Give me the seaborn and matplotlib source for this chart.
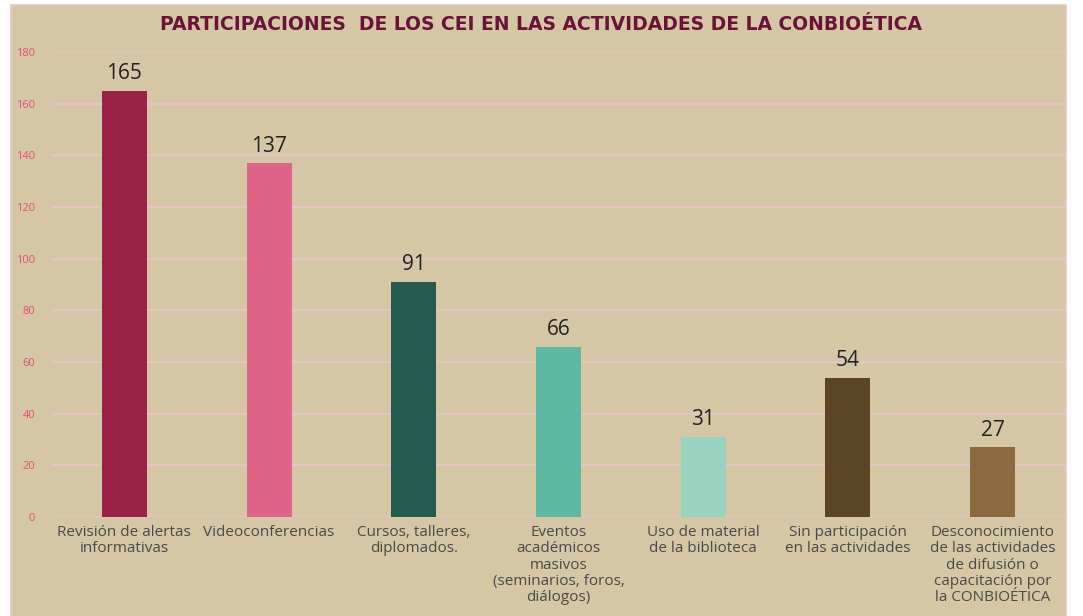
import matplotlib.pyplot as plt
import matplotlib.patches as mpatches
import pandas as pd
import seaborn as sns

categorias = ["Revisión de alertas\ninformativas", "Videoconferencias",
              "Cursos, talleres,\ndiplomados.",
              "Eventos\nacadémicos\nmasivos\n(seminarios, foros,\ndiálogos)",
              "Uso de material\nde la biblioteca",
              "Sin participación\nen las actividades",
              "Desconocimiento\nde las actividades\nde difusión o\ncapacitación por\nla CONBIOÉTICA"]
valores = [165, 137, 91, 66, 31, 54, 27]
colores = ["#9B2247", "#DE6489", "#245B4E", "#5FB8A0", "#99D3BF", "#5C4527", "#8B6A3F"]
yticks = list(range(0, 181, 20))

df = pd.DataFrame({"cat": categorias, "val": valores})

sns.set_style("white")
plt.rcParams["font.family"] = ["Open Sans", "DejaVu Sans"]

fig = plt.figure(figsize=(10.83, 6.16), dpi=100)
fig.patch.set_facecolor("white")
# fondo beige con borde rosa
bg = mpatches.Rectangle((11 / 1083, -0.01), (1066 - 11) / 1083, 1 - 5 / 616 + 0.01,
                        transform=fig.transFigure, facecolor="#D5C6A5",
                        edgecolor="#EBC3CC", linewidth=1.2, zorder=-5)
fig.patches.append(bg)

ax = fig.add_axes([52 / 1083, 1 - 517 / 616, (1065 - 52) / 1083, (517 - 52) / 616])
ax.set_zorder(2)
ax.set_facecolor("none")
sns.barplot(data=df, x="cat", y="val", hue="cat", palette=colores, legend=False,
            width=0.31, ax=ax, saturation=1, linewidth=0, zorder=3)

ax.set_ylim(0, 180)
ax.set_xlim(-0.5, 6.5)
ax.set_yticks(yticks)
ax.yaxis.grid(True, color="#EBC3CC", linewidth=1.2, zorder=0)
ax.set_axisbelow(True)
for s in ax.spines.values():
    s.set_visible(False)
ax.tick_params(axis="y", colors="#E0507A", labelsize=8, length=0, pad=12)
ax.tick_params(axis="x", colors="#4A4A4A", labelsize=11, length=0, pad=6)
for lab in ax.get_xticklabels():
    lab.set_linespacing(1.1)
    lab.set_color("#4A4A4A")
ax.set_xlabel("")
ax.set_ylabel("")

for i, v in enumerate(valores):
    ax.text(i, v + 2.5, str(v), ha="center", va="bottom", fontsize=15, color="#222222")

fig.text(0.5, 1 - 25 / 616, "PARTICIPACIONES  DE LOS CEI EN LAS ACTIVIDADES DE LA CONBIOÉTICA",
         ha="center", va="center", fontsize=13.5, fontweight="bold", color="#6B1238",
         family=["DejaVu Sans"])

fig.savefig("out.png", dpi=100)
